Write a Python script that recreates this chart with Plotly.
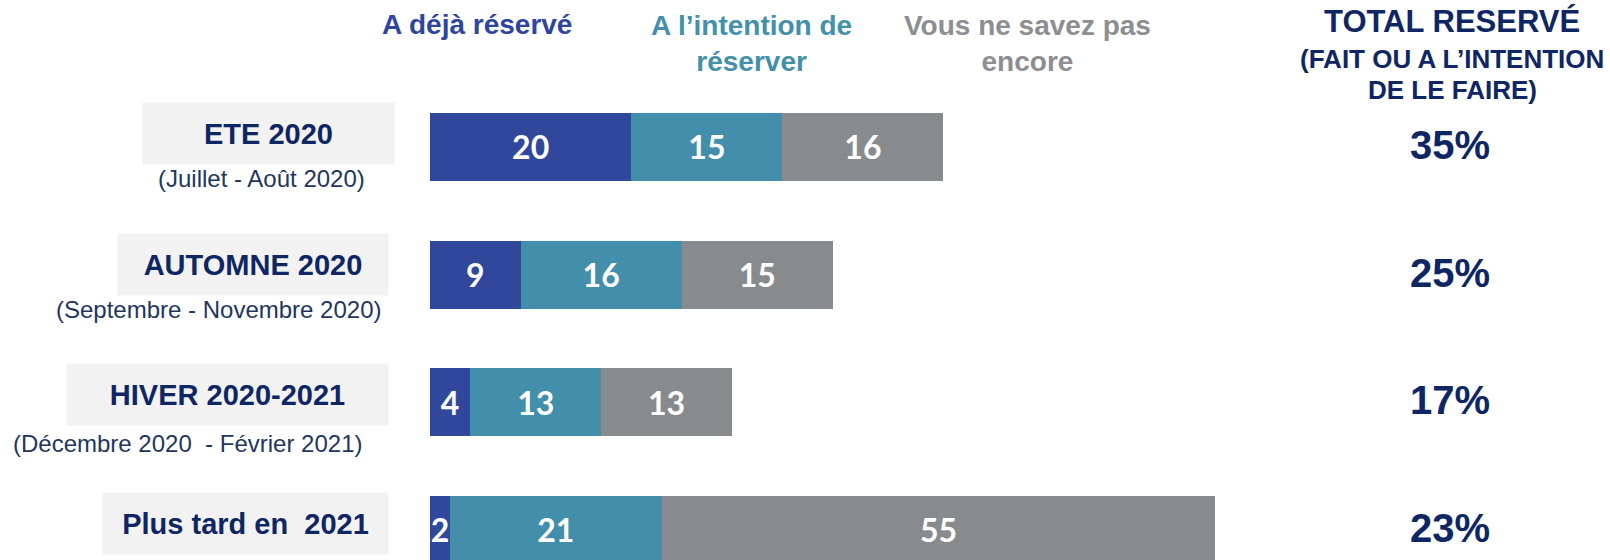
import plotly.graph_objects as go

# ---------------- data ----------------
categories = ["ETE 2020", "AUTOMNE 2020", "HIVER 2020-2021", "Plus tard en  2021"]
subtitles = ["(Juillet - Août 2020)", "(Septembre - Novembre 2020)", "(Décembre 2020  - Février 2021)", ""]
deja_reserve = [20, 9, 4, 2]
intention = [15, 16, 13, 21]
ne_sait_pas = [16, 15, 13, 55]
series_names = ["A déjà réservé", "A l’intention de<br>réserver", "Vous ne savez pas<br>encore"]
total_header = ["TOTAL RESERVÉ", "(FAIT OU A L’INTENTION", "DE LE FAIRE)"]
totals = [a + b for a, b in zip(deja_reserve, intention)]

# ---------------- style ----------------
W, H = 1610, 560
colors = ["#30479B", "#428EAB", "#888B8E"]
header_colors = ["#2E45A0", "#4390AB", "#8C8E91"]
navy = "#0E2663"
sub_color = "#1F3560"
font = "Liberation Sans"

fig = go.Figure()
for vals, name, col in zip([deja_reserve, intention, ne_sait_pas], series_names, colors):
    fig.add_trace(go.Bar(
        y=categories, x=vals, orientation="h", name=name,
        marker=dict(color=col, line=dict(width=0)),
        text=[str(v) for v in vals], textposition="inside", insidetextanchor="middle",
        constraintext="none", textangle=0,
        textfont=dict(color="white", size=32, family="Lato", weight="bold"),
        width=0.533, showlegend=False, hoverinfo="skip",
    ))

x0_px = 430
fig.update_layout(
    width=W, height=H, barmode="stack",
    margin=dict(l=0, r=0, t=0, b=0),
    paper_bgcolor="white", plot_bgcolor="white",
    uniformtext=dict(minsize=32, mode="show"),
    xaxis=dict(domain=[x0_px / W, 1], range=[0, 117.2], visible=False, fixedrange=True),
    yaxis=dict(type="category", categoryorder="array", categoryarray=categories,
               range=[3.235, -1.151], autorange=False, visible=False, fixedrange=True),
)

def px_x(p):
    return p / W

def px_y(p):
    return 1 - p / H

ann = []
# column headers
header_x = [477, 751, 1027]
header_y = [25, 44, 44]
for name, col, hx, hy in zip(series_names, header_colors, header_x, header_y):
    ann.append(dict(text=name, x=px_x(hx), y=px_y(hy), xref="paper", yref="paper",
                    xanchor="center", yanchor="middle", showarrow=False,
                    font=dict(family=font, size=28, color=col, weight="bold")))
# total header
for txt, sz, hy in zip(total_header, [31, 26, 26], [22, 59, 90]):
    ann.append(dict(text=txt, x=px_x(1452), y=px_y(hy), xref="paper", yref="paper",
                    xanchor="center", yanchor="middle", showarrow=False,
                    font=dict(family=font, size=sz, color=navy, weight="bold")))

# category boxes and subtitles
box_center = [268.5, 253, 227.5, 245.5]
box_width = [251, 270, 321, 285]
box_shift = [13.5, 10.5, 8, 7]
sub_center = [261, 218, 187.5, 0]
sub_shift = [-31.5, -35, -41, 0]
for i, cat in enumerate(categories):
    ann.append(dict(text=cat, x=px_x(box_center[i]), y=cat, xref="paper", yref="y",
                    xanchor="center", yanchor="middle", showarrow=False,
                    width=box_width[i], height=61, bgcolor="#F2F2F2", borderpad=0,
                    yshift=box_shift[i],
                    font=dict(family=font, size=29, color=navy, weight="bold")))
    if subtitles[i]:
        ann.append(dict(text=subtitles[i], x=px_x(sub_center[i]), y=cat, xref="paper", yref="y",
                        xanchor="center", yanchor="middle", showarrow=False,
                        yshift=sub_shift[i],
                        font=dict(family=font, size=24, color=sub_color)))
    ann.append(dict(text=f"{totals[i]}%", x=px_x(1450), y=cat, xref="paper", yref="y",
                    xanchor="center", yanchor="middle", showarrow=False, yshift=2,
                    font=dict(family=font, size=40, color=navy, weight="bold")))

fig.update_layout(annotations=ann)
fig.write_html("out.html", config={"displayModeBar": False},
               post_script="document.body.style.margin='0';document.body.style.overflow='hidden';")
